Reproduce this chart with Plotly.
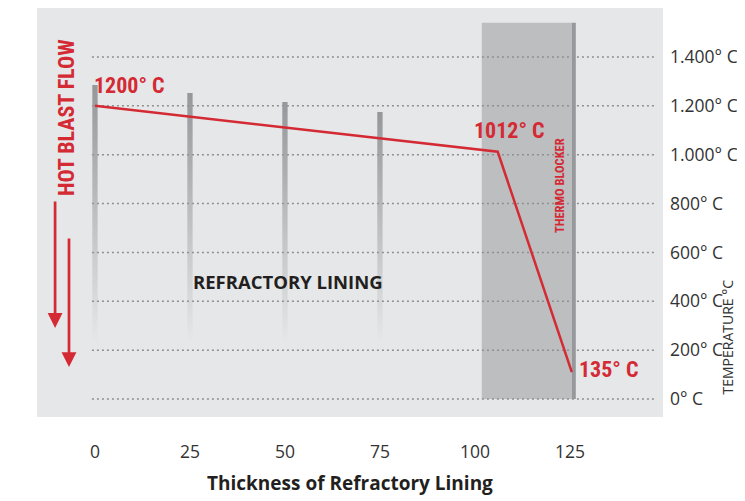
import plotly.graph_objects as go

# ---- data ----
thickness = [0, 106, 125.5]            # thickness of refractory lining
temperature = [1200, 1012, 110]        # temperature profile (°C)

probe_x = [0, 25, 50, 75]              # gray probe bars
probe_top = [1285, 1253, 1216, 1175]
probe_bottom = 230

blocker_start = 101.8
blocker_end = 125.5
blocker_top = 1540

x_ticks = [0, 25, 50, 75, 100, 125]
y_ticks = [0, 200, 400, 600, 800, 1000, 1200, 1400]
y_ticklabels = ["0° C", "200° C", "400° C", "600° C", "800° C",
                "1.000° C", "1.200° C", "1.400° C"]

RED = "#d42a34"
BG = "#e6e7e8"
NARROW = "Roboto Condensed, Liberation Sans Narrow, Roboto, sans-serif"
SANS = "Open Sans, Noto Sans, sans-serif"

fig = go.Figure()

# probe bars with vertical gradient
half_w = 0.7
for px, top in zip(probe_x, probe_top):
    fig.add_trace(go.Scatter(
        x=[px - half_w, px + half_w, px + half_w, px - half_w, px - half_w],
        y=[probe_bottom, probe_bottom, top, top, probe_bottom],
        mode="lines", line=dict(width=0), fill="toself",
        fillgradient=dict(type="vertical",
                          colorscale=[[0, "rgba(150,151,154,0)"], [1, "rgba(150,151,154,1)"]]),
        hoverinfo="skip", showlegend=False))

# temperature line
fig.add_trace(go.Scatter(x=thickness, y=temperature, mode="lines",
                         line=dict(color=RED, width=2.5), showlegend=False,
                         hoverinfo="skip"))

shapes = []
# thermo blocker area
shapes.append(dict(type="rect", xref="x", yref="y", x0=blocker_start, x1=blocker_end,
                   y0=0, y1=blocker_top, fillcolor="#bdbec0", line=dict(width=0),
                   layer="below"))
# dotted grid lines
for yv in y_ticks:
    shapes.append(dict(type="line", xref="x", yref="y", x0=-0.8, x1=147.9, y0=yv, y1=yv,
                       line=dict(color="#8e8f91", width=1.5, dash="2px,3px"), layer="below"))
# dark edge of the blocker
shapes.append(dict(type="rect", xref="x", yref="y", x0=blocker_end, x1=blocker_end + 1.05,
                   y0=0, y1=blocker_top, fillcolor="#97989b", line=dict(width=0),
                   layer="below"))

big = dict(family=NARROW, size=22, color=RED, weight="bold")
annotations = [
    dict(x=9.2, y=1285, text="1200° C", showarrow=False, font=big),
    dict(x=109.2, y=1101, text="1012° C", showarrow=False, font=big),
    dict(x=135.3, y=119, text="135° C", showarrow=False, font=big),
    dict(x=-7.5, y=1152, text="HOT BLAST FLOW", showarrow=False, textangle=-90,
         font=dict(family=NARROW, size=22, color=RED, weight="bold")),
    dict(x=122.4, y=872, text="THERMO BLOCKER", showarrow=False, textangle=-90,
         font=dict(family=NARROW, size=12.5, color=RED, weight="bold")),
    dict(x=50.8, y=483, text="<b>REFRACTORY LINING</b>", showarrow=False,
         font=dict(family=SANS, size=18.5, color="#231f20")),
    dict(xref="paper", yref="paper", x=1.1038, y=0.1968, xanchor="center", yanchor="middle",
         text="TEMPERATURE °C", showarrow=False, textangle=-90,
         font=dict(family=SANS, size=14, color="#333333")),
    dict(xref="paper", yref="paper", x=0.5, y=-0.1614, xanchor="center", yanchor="middle",
         text="<b>Thickness of Refractory Lining</b>", showarrow=False,
         font=dict(family=SANS, size=19, color="#231f20")),
    # flow arrows
    dict(x=-10.5, y=291, ax=-10.5, ay=815, axref="x", ayref="y", text="",
         showarrow=True, arrowhead=2, arrowsize=1.1, arrowwidth=2.7, arrowcolor=RED),
    dict(x=-6.84, y=131, ax=-6.84, ay=663, axref="x", ayref="y", text="",
         showarrow=True, arrowhead=2, arrowsize=1.1, arrowwidth=2.7, arrowcolor=RED),
]

# the page body adds an 8px offset, so the figure is sized to fit the window
fig.update_layout(
    width=737, height=493,
    margin=dict(l=29, r=82, t=0, b=84),
    paper_bgcolor="white", plot_bgcolor=BG,
    shapes=shapes, annotations=annotations,
    xaxis=dict(range=[-15.26, 149.5], tickvals=x_ticks, showgrid=False, zeroline=False,
               showline=False, ticks="", ticklabelstandoff=22, automargin=False,
               tickfont=dict(family=SANS, size=17.5, color="#333333")),
    yaxis=dict(range=[-73.7, 1600.5], side="right", tickvals=y_ticks, ticktext=y_ticklabels,
               showgrid=False, zeroline=False, showline=False, ticks="",
               ticklabelstandoff=6, automargin=False,
               tickfont=dict(family=SANS, size=17.5, color="#333333")),
)

fig.write_html("out.html")
